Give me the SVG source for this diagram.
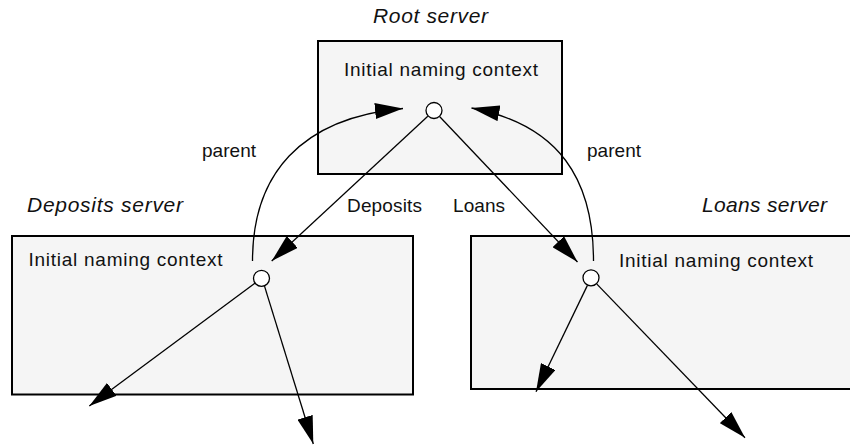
<svg xmlns="http://www.w3.org/2000/svg" width="850" height="445" viewBox="0 0 850 445">
<defs>
<style>
.box{fill:#f5f5f5;stroke:#000;stroke-width:2}
.pt{fill:#fff;stroke:#000;stroke-width:1.3}
.t{font-family:"Liberation Sans",Arial,sans-serif;font-size:19px;fill:#111}
.ti{font-family:"Liberation Sans",Arial,sans-serif;font-size:21px;font-style:italic;fill:#111}
.c{fill:none;stroke:#000;stroke-width:1.3;marker-end:url(#ah)}
</style>
<marker id="ah" markerUnits="userSpaceOnUse" viewBox="0 0 28 16" refX="28" refY="8" markerWidth="28" markerHeight="16" orient="auto">
<path d="M0,0 L28,8 L0,16 z" fill="#000"/>
</marker>
</defs>
<rect width="850" height="445" fill="#fff"/>
<g id="root">
<text class="ti" x="373" y="23" textLength="115">Root server</text>
<rect class="box" x="318" y="41" width="244" height="133"/>
<text class="t" x="344" y="76" textLength="194">Initial naming context</text>
<circle class="pt" cx="434" cy="110.5" r="8"/>
</g>
<g id="deposits">
<text class="ti" x="27" y="212" textLength="156">Deposits server</text>
<rect class="box" x="12" y="236" width="401" height="158.5"/>
<text class="t" x="28.5" y="266" textLength="194">Initial naming context</text>
<circle class="pt" cx="261.5" cy="278.3" r="8"/>
</g>
<g id="loans">
<text class="ti" x="702" y="212" textLength="125">Loans server</text>
<rect class="box" x="471" y="236" width="400" height="153"/>
<text class="t" x="619" y="267" textLength="194">Initial naming context</text>
<circle class="pt" cx="591" cy="277.8" r="8"/>
</g>
<g id="connectors">
<path class="c" d="M427.8,116.3 L271.7,261"/>
<path class="c" d="M439.8,116.7 L577.5,262"/>
<path class="c" d="M252.5,261 C252.5,175 300,118 403,108.5"/>
<path class="c" d="M593.5,261 C593.5,180 560,125 471.5,108"/>
<path class="c" d="M255.2,283.1 L89.3,406"/>
<path class="c" d="M264.5,286.1 L313.3,444"/>
<path class="c" d="M587.3,285.6 L536,391.7"/>
<path class="c" d="M596.9,284.1 L745,437.7"/>
<text class="t" x="202" y="157" textLength="54">parent</text>
<text class="t" x="587" y="157" textLength="54">parent</text>
<text class="t" x="347" y="212" textLength="75">Deposits</text>
<text class="t" x="453" y="212" textLength="52">Loans</text>
</g>
</svg>
